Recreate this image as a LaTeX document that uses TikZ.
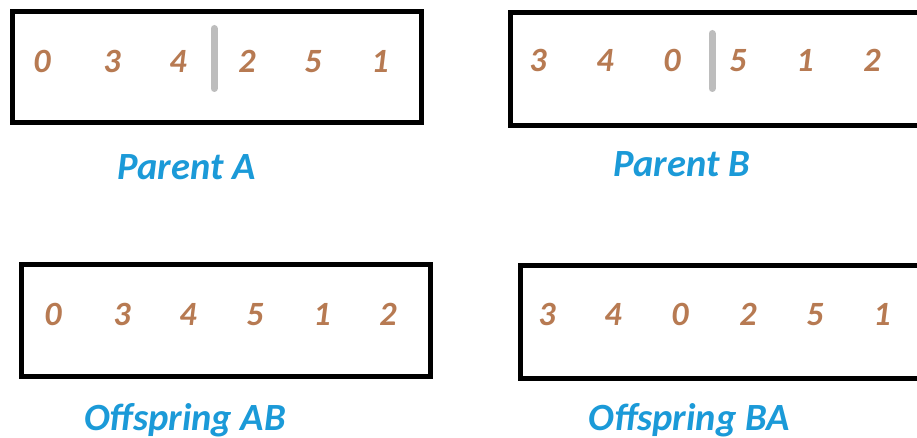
\documentclass[tikz,border=0pt]{standalone}
\usepackage{fontspec}
\setmainfont{Carlito}
\definecolor{digitc}{HTML}{B77A52}
\definecolor{labelc}{HTML}{1B9AD8}
\definecolor{barc}{HTML}{BDBDBD}
\tikzset{
  box/.style={draw=black, line width=5pt, rectangle, inner sep=0pt},
  digit/.style={text=digitc, font=\bfseries\itshape\fontsize{34}{34}\selectfont, inner sep=0pt, anchor=base},
  lab/.style={text=labelc, font=\bfseries\itshape\fontsize{38.5}{38.5}\selectfont, inner sep=0pt, anchor=base},
  cut/.style={draw=barc, line width=7pt, line cap=round}
}
\begin{document}
\begin{tikzpicture}[x=1pt,y=-1pt]
\useasboundingbox (0,0) rectangle (917,438);
\clip (0,0) rectangle (917,438);
\fill[white] (0,0) rectangle (917,438);
% boxes
\node[box, minimum width=408.5pt, minimum height=111pt] (boxA) at (216.75,67.5) {};
\node[box, minimum width=420pt, minimum height=112.5pt] (boxB) at (720,69.25) {};
\node[box, minimum width=409.5pt, minimum height=111.5pt] (boxAB) at (225.75,320.25) {};
\node[box, minimum width=420pt, minimum height=112.5pt] (boxBA) at (730,321.75) {};
% cut bars
\draw[cut] (214,28.5) -- (214,88.5);
\draw[cut] (712,33.5) -- (712,88.5);
% Parent A
\node[digit] (a1) at (42,73) {0};
\node[digit] (a2) at (112,73) {3};
\node[digit] (a3) at (178,73) {4};
\node[digit] (a4) at (247,73) {2};
\node[digit] (a5) at (313,73) {5};
\node[digit] (a6) at (380,73) {1};
% Parent B
\node[digit] (b1) at (538,72) {3};
\node[digit] (b2) at (605,72) {4};
\node[digit] (b3) at (672,72) {0};
\node[digit] (b4) at (738,72) {5};
\node[digit] (b5) at (805,72) {1};
\node[digit] (b6) at (872,72) {2};
% Offspring AB
\node[digit] (c1) at (53,325) {0};
\node[digit] (c2) at (122,325) {3};
\node[digit] (c3) at (188,325) {4};
\node[digit] (c4) at (255,325) {5};
\node[digit] (c5) at (322,325) {1};
\node[digit] (c6) at (388,325) {2};
% Offspring BA
\node[digit] (d1) at (547,325) {3};
\node[digit] (d2) at (613,325) {4};
\node[digit] (d3) at (680,325) {0};
\node[digit] (d4) at (748,325) {2};
\node[digit] (d5) at (815,325) {5};
\node[digit] (d6) at (882,325) {1};
% labels
\node[lab] (labA) at (186.5,180) {Parent A};
\node[lab] (labB) at (681.5,177) {Parent B};
\node[lab] (labAB) at (185,430) {Offspring AB};
\node[lab] (labBA) at (689,430) {Offspring BA};
\end{tikzpicture}
\end{document}
